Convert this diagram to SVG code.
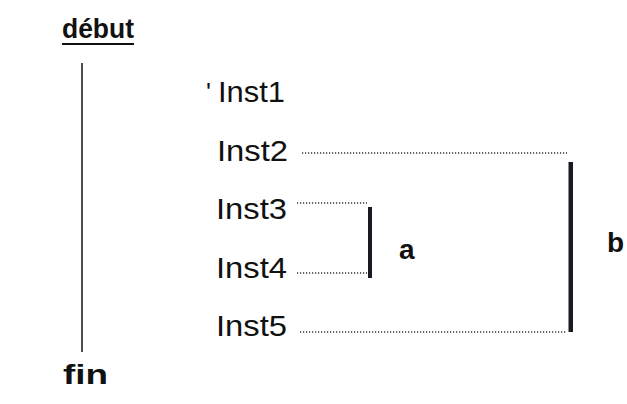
<svg xmlns="http://www.w3.org/2000/svg" width="627" height="404" viewBox="0 0 627 404">
  <style>
    .inst { font-family: "Liberation Sans", Arial, sans-serif; font-size: 30px; fill: #111; }
    .mark { font-family: "Liberation Sans", Arial, sans-serif; font-size: 28px; font-weight: bold; fill: #111; }
    .dot { stroke: #333; stroke-width: 1.3; stroke-dasharray: 1.2 1.8; fill: none; }
    .bar { fill: #1a1a22; }
  </style>
  <rect width="627" height="404" fill="#ffffff"/>

  <!-- start / end timeline -->
  <g id="debut">
    <text class="mark" x="62" y="38" font-size="29" textLength="72" lengthAdjust="spacingAndGlyphs">début</text>
    <rect x="62" y="43" width="72" height="2" fill="#111"/>
  </g>
  <g id="fin">
    <text class="mark" x="63" y="384" font-size="31" textLength="45" lengthAdjust="spacingAndGlyphs">fin</text>
  </g>

  <!-- instructions -->
  <g id="inst1">
    <text class="inst" x="206" y="102"><tspan font-size="26" dy="-1">'</tspan><tspan x="218" dy="1" textLength="67" lengthAdjust="spacingAndGlyphs">Inst1</tspan></text>
  </g>
  <g id="inst2"><text class="inst" x="217" y="161" textLength="71" lengthAdjust="spacingAndGlyphs">Inst2</text></g>
  <g id="inst3"><text class="inst" x="216" y="219" textLength="71" lengthAdjust="spacingAndGlyphs">Inst3</text></g>
  <g id="inst4"><text class="inst" x="216" y="278" textLength="71" lengthAdjust="spacingAndGlyphs">Inst4</text></g>
  <g id="inst5"><text class="inst" x="216" y="336" textLength="71" lengthAdjust="spacingAndGlyphs">Inst5</text></g>

  <!-- bracket labels -->
  <g id="label-a"><text class="mark" x="399" y="259">a</text></g>
  <g id="label-b"><text class="mark" x="607" y="252">b</text></g>

  <!-- connectors -->
  <g id="connectors">
    <line x1="82" y1="63" x2="82" y2="352" stroke="#111" stroke-width="1.5"/>
    <line class="dot" x1="302" y1="153" x2="567" y2="153"/>
    <line class="dot" x1="297" y1="203" x2="367" y2="203"/>
    <line class="dot" x1="297" y1="273" x2="367" y2="273"/>
    <line class="dot" x1="300" y1="332" x2="566" y2="332"/>
    <rect class="bar" x="368" y="207" width="4" height="71"/>
    <rect class="bar" x="568.5" y="162" width="4.5" height="170"/>
  </g>
</svg>
